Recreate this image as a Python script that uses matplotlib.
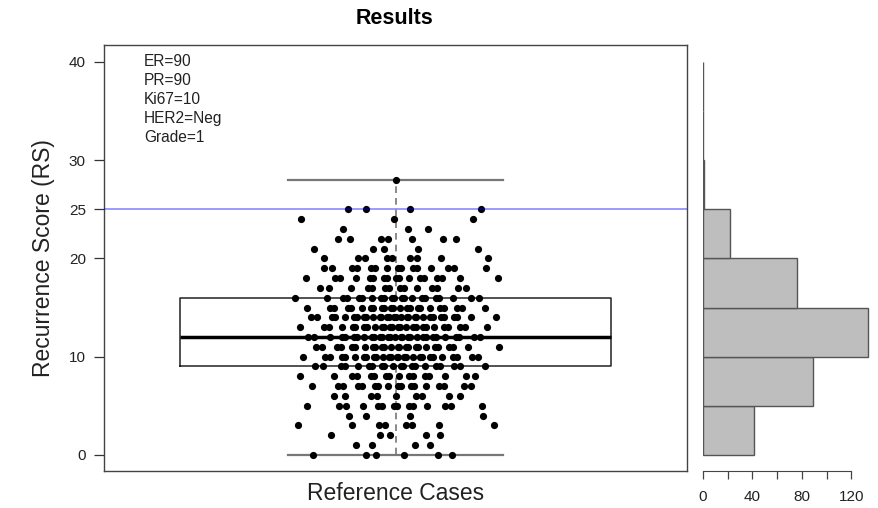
import numpy as np
import matplotlib
matplotlib.use('Agg')
import matplotlib.pyplot as plt

plt.rcParams['font.family'] = ['Liberation Sans', 'DejaVu Sans']

# recurrence score of each reference case, as (score, number of cases)
score_values = list(range(0, 29))
score_counts = [6, 4, 5, 8, 4, 14,
                9, 17, 16, 20, 27,
                25, 29, 26, 30, 23,
                21, 14, 17, 15, 9,
                5, 7, 3, 3, 4,
                0, 0, 1]
cutoff = 25
ytick_values = [0, 10, 20, 25, 30, 40]
hist_breaks = [0, 5, 10, 15, 20, 25, 30, 35, 40]
hist_ticks = [0, 20, 40, 60, 80, 100, 120]
hist_labels = ['0', '', '40', '', '80', '', '120']
patient_info = ['ER=90', 'PR=90', 'Ki67=10', 'HER2=Neg', 'Grade=1']

scores = np.repeat(score_values, score_counts)


def tri_inv(u):
    # inverse cdf of a triangular spread on [-1, 1]
    return np.where(u < 0.5, np.sqrt(2 * u) - 1, 1 - np.sqrt(2 * (1 - u)))


# sideways jitter: each case of a score gets its own slot of a triangular
# spread, and a fixed (golden / sqrt2) offset inside that slot
JIT = 0.19
xs = []
for s, n in zip(score_values, score_counts):
    if n == 0:
        continue
    i = np.arange(n)
    off = np.mod(s * 0.6180339887 + i * 0.4142135624 + 0.2, 1.0)
    u = (i + off) / n
    xs.extend(1.0 + JIT * tri_inv(u))
xs = np.array(xs)

# histogram counts, R style: [0,5], (5,10], ...
hist_counts = []
for i in range(len(hist_breaks) - 1):
    lo, hi = hist_breaks[i], hist_breaks[i + 1]
    if i == 0:
        hist_counts.append(int(np.sum((scores >= lo) & (scores <= hi))))
    else:
        hist_counts.append(int(np.sum((scores > lo) & (scores <= hi))))

fig = plt.figure(figsize=(8.79, 5.08), dpi=100)
ax = fig.add_axes([104/879, 1 - 471/508, 583/879, 426/508])
ax2 = fig.add_axes([703/879, 1 - 471/508, 167/879, 426/508])

ylim = (-1.63, 41.7)

# main panel
ax.boxplot(scores, positions=[1], widths=0.74, whis=(0, 100), showfliers=False,
           capwidths=0.37,
           boxprops=dict(color='#222222', linewidth=1.1),
           medianprops=dict(color='black', linewidth=2.5),
           whiskerprops=dict(color='#777777', linestyle=(0, (4, 3)), linewidth=1.2),
           capprops=dict(color='#777777', linewidth=1.6),
           zorder=2)
ax.plot(xs, scores, 'o', color='black', markersize=5.2, markeredgewidth=0, zorder=3)
ax.axhline(cutoff, color='blue', alpha=0.5, linewidth=1.1, zorder=4)

ax.set_xlim(0.5, 1.5)
ax.set_ylim(*ylim)
ax.set_xticks([])
ax.set_yticks(ytick_values)
ax.tick_params(axis='y', direction='out', length=7, width=0.9, colors='#333333',
               labelsize=11, labelcolor='#222222', pad=6)
for sp in ax.spines.values():
    sp.set_color('#444444')
    sp.set_linewidth(1.0)
ax.set_ylabel('Recurrence Score (RS)', fontsize=16.5, color='#222222', labelpad=10)
ax.set_xlabel('Reference Cases', fontsize=16.5, color='#222222', labelpad=8)

for i, line in enumerate(patient_info):
    ax.text(0.069, 0.962 - i * 0.0445, line, transform=ax.transAxes,
            fontsize=11.2, color='#222222', ha='left', va='center')

fig.text(395/879, 1 - 18/508, 'Results', ha='center', va='center',
         fontsize=15.5, fontweight='bold')

# side histogram
bottoms = hist_breaks[:-1]
heights = np.diff(hist_breaks)
ax2.barh(bottoms, hist_counts, height=heights, align='edge', left=0,
         color='#bebebe', edgecolor='#555555', linewidth=1.0)
ax2.set_ylim(*ylim)
ax2.set_xlim(0, 135)
ax2.set_yticks([])
ax2.set_xticks(hist_ticks)
ax2.set_xticklabels(hist_labels)
for name in ['top', 'right', 'left']:
    ax2.spines[name].set_visible(False)
ax2.spines['bottom'].set_bounds(0, 120)
ax2.spines['bottom'].set_color('#444444')
ax2.tick_params(axis='x', direction='out', length=6, width=0.9, colors='#444444',
                labelsize=11, labelcolor='#222222', pad=8)

fig.savefig('out.png', dpi=100)
